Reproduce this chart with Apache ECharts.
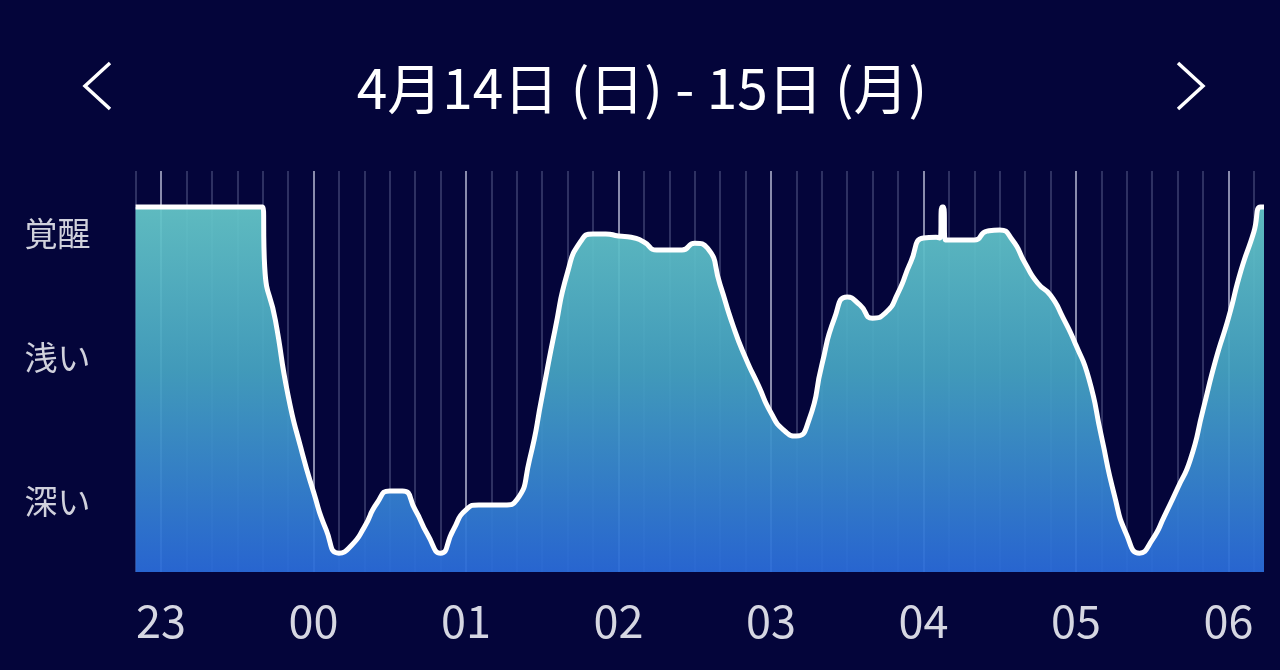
<!DOCTYPE html>
<html>
<head>
<meta charset="utf-8">
<script src="https://cdn.jsdelivr.net/npm/echarts@6/dist/echarts.min.js"></script>
<style>
html,body{margin:0;padding:0;background:#04053a;}
#c{width:1280px;height:670px;}
</style>
</head>
<body>
<div id="c"></div>
<script>
// Sleep depth curve: minutes after 23:00, depth score (0 = bottom, 100 = top of plot)
const minutes = [-10, 0, 10, 20, 30, 40, 40.8, 45, 50, 55, 60, 65, 70, 75, 80, 85, 90, 95, 100, 105, 110,
  115, 120, 125, 130, 135, 140, 145, 150, 155, 160, 165, 170, 175, 180, 185, 190, 195, 200, 205, 210,
  215, 220, 225, 230, 235, 240, 245, 250, 255, 260, 265, 270, 275, 280, 285, 290, 295, 300, 305,
  306.5, 307.3, 307.9, 308.6, 310, 315, 320, 325, 330, 335, 340, 345, 350, 355, 360, 365, 370, 375,
  380, 385, 390, 395, 400, 405, 410, 415, 420, 425, 430, 432.6, 434];
const depth = [91, 91, 91, 91, 91, 91, 76, 62.8, 44, 31, 20, 10.5, 4.7, 6.7, 11.2, 17.2, 20.2, 20.2, 15.5, 9.2, 4.7,
  10.5, 15.5, 16.7, 16.7, 16.7, 18, 28, 44, 60.3, 74.8, 82.3, 84.3, 84.3, 83.8, 83.5, 82.3, 80.3, 80.3, 80.3, 82,
  80.8, 71.6, 61.6, 53.4, 46.6, 39.7, 35.4, 33.9, 38, 51.6, 63.3, 68.6, 66.6, 63.3, 64.6, 69.6, 77.3, 83.3, 83.5,
  83.3, 91, 91, 82.8, 82.8, 82.8, 82.8, 85, 85.3, 82.8, 77, 72, 69, 63.3, 56.6, 48.4, 33.9, 19.5,
  9.2, 4.7, 8, 14.2, 20.9, 28, 40.4, 52.9, 63.3, 75.3, 84.8, 91, 91];

const hourTicks = [0, 60, 120, 180, 240, 300, 360, 420];
const hourLabels = ['23', '00', '01', '02', '03', '04', '05', '06'];
const stageLevels = [84.5, 53.6, 17.5];
const stageLabels = ['覚醒', '浅い', '深い'];
const title = '4月14日 (日) - 15日 (月)';

const chart = echarts.init(document.getElementById('c'), null, {renderer: 'canvas'});
const data = minutes.map((m, i) => [m, depth[i]]);
const font = '"Noto Sans CJK JP", "Noto Sans", sans-serif';
const minor = '#2e3162';
const major = '#8a8cad';

chart.setOption({
  backgroundColor: '#04053a',
  animation: false,
  grid: {left: 135.6, right: 16, top: 171, bottom: 98},
  xAxis: {
    type: 'value', min: -10, max: 434, interval: 10,
    axisLine: {show: false}, axisTick: {show: false},
    splitLine: {show: true, showMaxLine: false,
      lineStyle: {color: [minor, major, minor, minor, minor, minor], width: 2}},
    axisLabel: {
      customValues: hourTicks,
      formatter: v => hourLabels[hourTicks.indexOf(v)] || '',
      color: '#d6d7e2', fontSize: 45, fontFamily: font, margin: 26
    }
  },
  yAxis: {
    type: 'value', min: 0, max: 100,
    axisLine: {show: false}, axisTick: {show: false}, splitLine: {show: false},
    axisLabel: {
      customValues: stageLevels,
      formatter: v => stageLabels[stageLevels.indexOf(v)] || '',
      color: '#d0d1dc', fontSize: 33, fontFamily: font, align: 'left', margin: 111
    }
  },
  series: [{
    type: 'line', data: data, smooth: 0.6, showSymbol: false,
    lineStyle: {color: '#ffffff', width: 5},
    areaStyle: {
      opacity: 0.94,
      color: new echarts.graphic.LinearGradient(0, 0, 0, 1, [
        {offset: 0, color: '#64c6c8'},
        {offset: 0.45, color: '#45a3c2'},
        {offset: 1, color: '#2a6bd9'}
      ])
    }
  }],
  graphic: [
    {type: 'text', x: 642, y: 88,
      style: {text: title, fill: '#ffffff', fontSize: 55, fontFamily: font, align: 'center', verticalAlign: 'middle'}},
    {type: 'polyline', shape: {points: [[110, 63], [85, 86], [110, 109]]},
      style: {stroke: '#ffffff', lineWidth: 3.5, fill: null}},
    {type: 'polyline', shape: {points: [[1178, 63], [1203, 86], [1178, 109]]},
      style: {stroke: '#ffffff', lineWidth: 3.5, fill: null}}
  ]
});
</script>
</body>
</html>
